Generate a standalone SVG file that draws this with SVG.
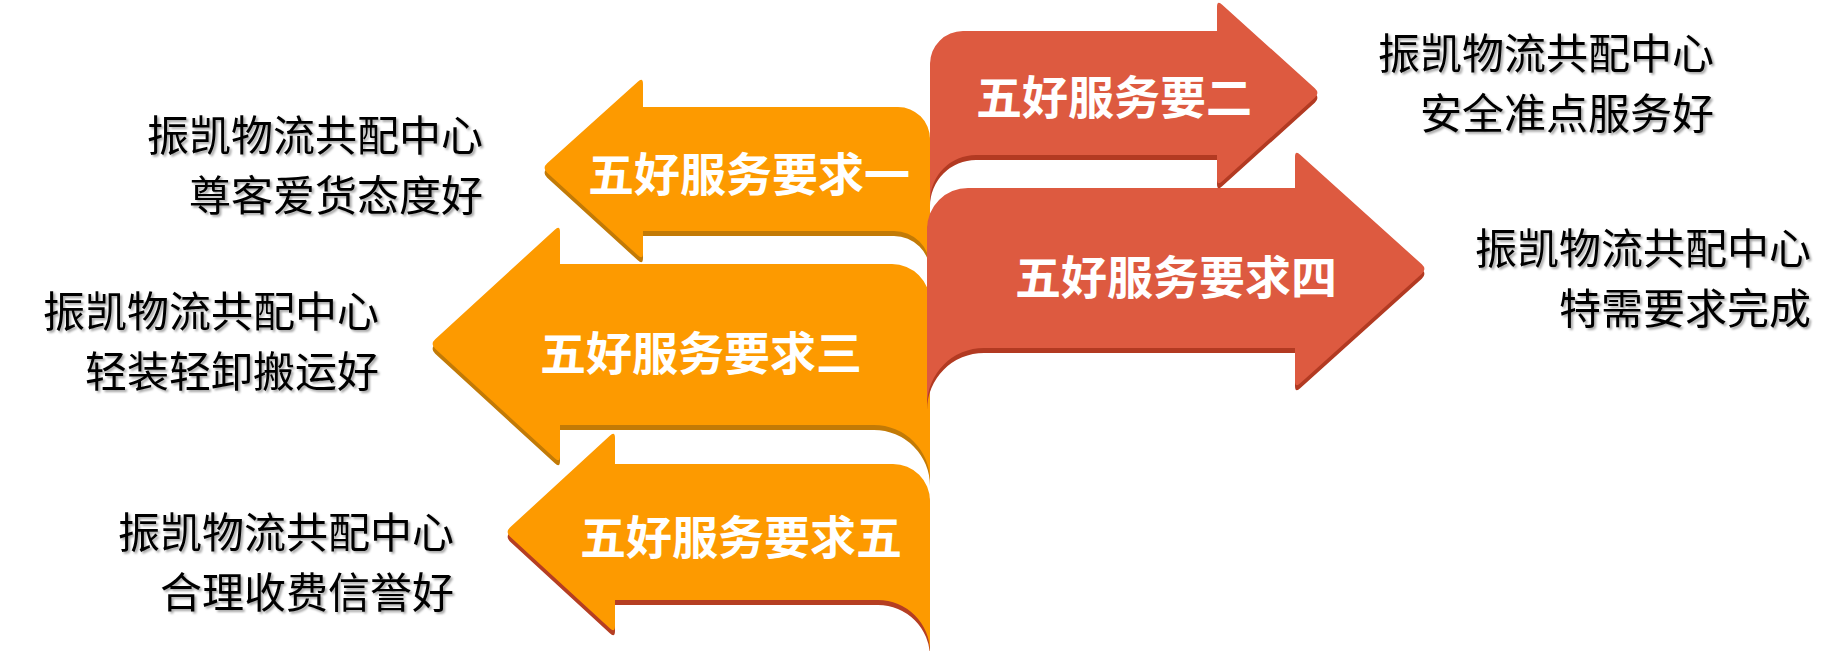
<svg xmlns="http://www.w3.org/2000/svg" xmlns:xlink="http://www.w3.org/1999/xlink" width="1832" height="651" viewBox="0 0 1832 651">
<style>
.o{fill:#FD9A00}
.os{fill:#C27A06}
.or{fill:#B53E22}
.r{fill:#DD5A40}
.rs{fill:#B23A22}
.lbl{font-family:"Noto Sans CJK SC","Noto Sans",sans-serif;font-weight:700;font-size:46px;fill:#FFFFFF;text-anchor:middle}
.txt{font-family:"Noto Sans CJK SC","Noto Sans",sans-serif;font-weight:400;font-size:42px;fill:#000000;text-anchor:end;filter:url(#ts)}
</style>
<defs>
<filter id="ts" x="-5%" y="-20%" width="110%" height="140%">
<feDropShadow dx="2" dy="2" stdDeviation="1.2" flood-color="#000000" flood-opacity="0.35"/>
</filter>
<path id="p1" d="M547.2 163.3 L637.8 81.7 Q643 77 643 84 L643 107 L898 107 A32 32 0 0 1 930 139 L930 267 A36 36 0 0 0 894 231 L643 231 L643 253 Q643 260 637.8 255.3 L547.2 172.7 Q542 168 547.2 163.3 Z"/>
<path id="p3" d="M435.2 339.3 L554.8 229.7 Q560 225 560 232 L560 264 L892 264 A38 38 0 0 1 930 302 L930 481 A56 56 0 0 0 874 425 L560 425 L560 456 Q560 463 554.8 458.3 L435.2 348.7 Q430 344 435.2 339.3 Z"/>
<path id="p5" d="M510.2 527.3 L609.8 435.7 Q615 431 615 438 L615 464 L893 464 A37 37 0 0 1 930 501 L930 652 A52 52 0 0 0 878 600 L615 600 L615 626 Q615 633 609.8 628.3 L510.2 536.7 Q505 532 510.2 527.3 Z"/>
<path id="p2" d="M930 64 A33 33 0 0 1 963 31 L1217 31 L1217 7 Q1217 0 1222.2 4.7 L1314.8 88.3 Q1320 93 1314.8 97.7 L1222.2 181.3 Q1217 186 1217 179 L1217 155 L976 155 A46 46 0 0 0 930 201 Z"/>
<path id="p4" d="M927 229 A41 41 0 0 1 968 188 L1295 188 L1295 157 Q1295 150 1300.2 154.7 L1421.8 264.3 Q1427 269 1421.8 273.7 L1300.2 383.3 Q1295 388 1295 381 L1295 348 L984 348 A57 57 0 0 0 927 405 Z"/>
</defs>
<rect width="1832" height="651" fill="#FFFFFF"/>
<g id="connectors"/>
<g id="node5">
<use xlink:href="#p5" href="#p5" class="or" transform="translate(0,5)"/>
<use xlink:href="#p5" href="#p5" class="o"/>
<text class="lbl" x="741" y="554">五好服务要求五</text>
</g>
<g id="node3">
<use xlink:href="#p3" href="#p3" class="os" transform="translate(0,5)"/>
<use xlink:href="#p3" href="#p3" class="o"/>
<text class="lbl" x="701" y="370">五好服务要求三</text>
</g>
<g id="node1">
<use xlink:href="#p1" href="#p1" class="os" transform="translate(0,5)"/>
<use xlink:href="#p1" href="#p1" class="o"/>
<text class="lbl" x="749" y="191">五好服务要求一</text>
</g>
<g id="node4">
<use xlink:href="#p4" href="#p4" class="rs" transform="translate(0,5)"/>
<use xlink:href="#p4" href="#p4" class="r"/>
<text class="lbl" x="1176" y="294">五好服务要求四</text>
</g>
<g id="node2">
<use xlink:href="#p2" href="#p2" class="rs" transform="translate(0,5)"/>
<use xlink:href="#p2" href="#p2" class="r"/>
<text class="lbl" x="1114" y="114">五好服务要二</text>
</g>
<g id="text1">
<text class="txt" x="483" y="151">振凯物流共配中心</text>
<text class="txt" x="483" y="211">尊客爱货态度好</text>
</g>
<g id="text2">
<text class="txt" x="1714" y="69">振凯物流共配中心</text>
<text class="txt" x="1714" y="129">安全准点服务好</text>
</g>
<g id="text3">
<text class="txt" x="379" y="327">振凯物流共配中心</text>
<text class="txt" x="379" y="387">轻装轻卸搬运好</text>
</g>
<g id="text4">
<text class="txt" x="1811" y="264">振凯物流共配中心</text>
<text class="txt" x="1811" y="324">特需要求完成</text>
</g>
<g id="text5">
<text class="txt" x="454" y="548">振凯物流共配中心</text>
<text class="txt" x="454" y="608">合理收费信誉好</text>
</g>
</svg>
